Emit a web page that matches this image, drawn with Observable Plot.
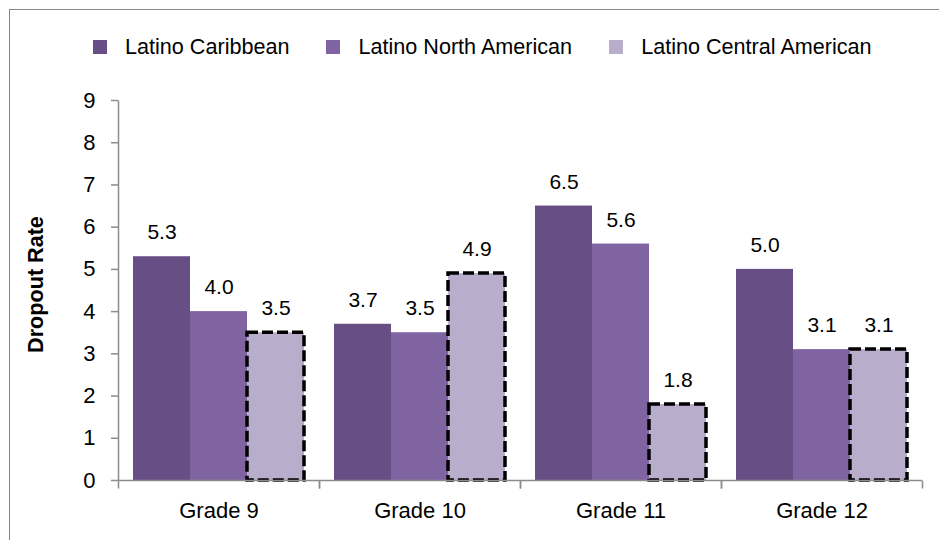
<!DOCTYPE html>
<html>
<head>
<meta charset="utf-8">
<script src="https://cdn.jsdelivr.net/npm/d3@7"></script>
<script src="https://cdn.jsdelivr.net/npm/@observablehq/plot@0.6"></script>
<style>
  html, body { margin: 0; padding: 0; background: #fff; overflow: hidden; width: 939px; height: 540px; }
  body { font-family: "Liberation Sans", Arial, sans-serif; color: #000; }
  #frame { position: absolute; left: 9px; top: 9px; width: 1000px; height: 600px; border: 1px solid #878787; box-sizing: border-box; }
  #legend { position: absolute; left: 93px; top: 35px; height: 24px; display: flex; align-items: center; font-size: 21.6px; }
  .item { display: flex; align-items: center; margin-right: 37px; }
  .sw { width: 14px; height: 14px; margin-right: 18px; }
  #chart { position: absolute; left: 0; top: 60px; }
</style>
</head>
<body>
<div id="frame"></div>
<div id="legend"></div>
<div id="chart"></div>
<script>
// ---- data ----
const grades = ["Grade 9", "Grade 10", "Grade 11", "Grade 12"];
const series = ["Latino Caribbean", "Latino North American", "Latino Central American"];
const caribbean = [5.3, 3.7, 6.5, 5.0];
const northAmerican = [4.0, 3.5, 5.6, 3.1];
const centralAmerican = [3.5, 4.9, 1.8, 3.1];
const yTicks = [0, 1, 2, 3, 4, 5, 6, 7, 8, 9];
const colors = ["#674f86", "#8064a2", "#b8adcb"];

const valuesBySeries = [caribbean, northAmerican, centralAmerican];
const table = [];
grades.forEach((g, gi) => series.forEach((s, si) => table.push({grade: g, series: s, value: valuesBySeries[si][gi]})));
const dashed = table.filter(d => d.series === series[2]);

// ---- legend ----
const legend = document.getElementById("legend");
series.forEach((s, i) => {
  const item = document.createElement("div");
  item.className = "item";
  const sw = document.createElement("div");
  sw.className = "sw";
  sw.style.background = colors[i];
  const label = document.createElement("span");
  label.textContent = s;
  item.appendChild(sw);
  item.appendChild(label);
  legend.appendChild(item);
});

// ---- chart ----
const W = 939, H = 480, MT = 40, MB = 60, ML = 116, MR = 16;
const frameH = H - MT - MB;
const tickDown = {draw(ctx) { ctx.moveTo(0, 0); ctx.lineTo(0, 8); }};
const axisLine = {draw(ctx) { ctx.moveTo(0, 0); ctx.lineTo(0, -frameH); }};
const grey = "#8c8c8c";

const plot = Plot.plot({
  width: W, height: H,
  marginTop: MT, marginBottom: MB, marginLeft: ML, marginRight: MR,
  style: {fontFamily: "'Liberation Sans', Arial, sans-serif", fontSize: "22px", color: "#000", background: "transparent"},
  fx: {domain: grades, padding: 0, label: null},
  x: {domain: series, paddingInner: 0, paddingOuter: 0.25, axis: null},
  y: {domain: [0, 9], label: null},
  color: {domain: series, range: colors},
  marks: [
    Plot.barY(table, {fx: "grade", x: "series", y: "value", fill: "series", inset: 0}),
    Plot.barY(dashed, {fx: "grade", x: "series", y: "value", fill: "none", stroke: "#000", strokeWidth: 3.5, strokeDasharray: "11,4", inset: 0}),
    Plot.ruleY([0], {stroke: grey, strokeWidth: 1.5}),
    Plot.dot(grades, {fx: d => d, frameAnchor: "bottom-left", symbol: tickDown, fill: "none", stroke: grey, strokeWidth: 1.5}),
    Plot.dot(grades, {fx: d => d, frameAnchor: "bottom-right", symbol: tickDown, fill: "none", stroke: grey, strokeWidth: 1.5}),
    Plot.dot([grades[0]], {fx: d => d, frameAnchor: "bottom-left", symbol: axisLine, fill: "none", stroke: grey, strokeWidth: 1.5}),
    Plot.axisY({ticks: yTicks, tickSize: 7, tickPadding: 16, stroke: grey, strokeWidth: 1.5, fill: "#000", fontSize: 22, label: null, tickFormat: d3.format("d")}),
    Plot.axisFx({anchor: "bottom", tickSize: 0, tickPadding: 22, fontSize: 22, fill: "#000", label: null}),
    Plot.text(table, {fx: "grade", x: "series", y: "value", text: d => d.value.toFixed(1), dy: -24, fontSize: 21, fill: "#000"}),
    Plot.text([grades[0]], {fx: d => d, frameAnchor: "left", text: () => "Dropout Rate", rotate: -90, textAnchor: "middle", dx: -82, dy: -6, fontSize: 21.6, fontWeight: "bold", fill: "#000"})
  ]
});
document.getElementById("chart").appendChild(plot);
</script>
</body>
</html>
